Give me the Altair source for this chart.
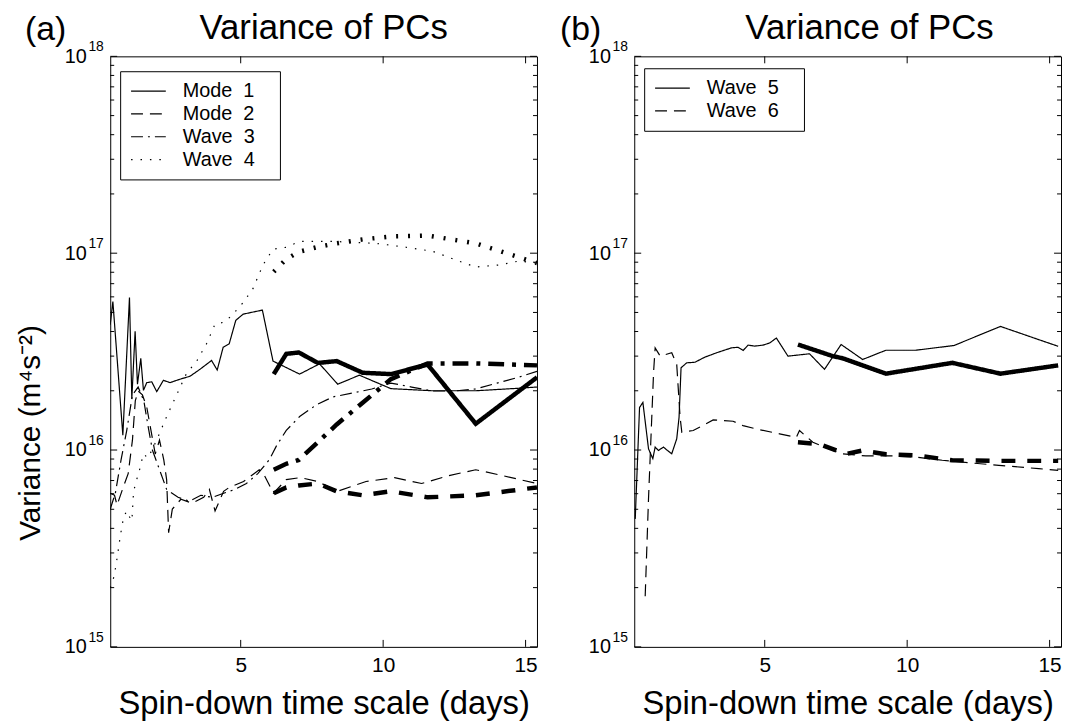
import altair as alt
import pandas as pd

# ---------------- data (variance in units of 1e16 m^4 s^-2) ----------------
# Panel (a)
M1_DAY = [0.42, 0.513, 0.863, 1.096, 1.178, 1.294, 1.376, 1.493, 1.586, 1.703, 1.878, 2.053, 2.286, 2.519,
          2.869, 3.219, 3.569, 3.977, 4.175, 4.385, 4.595, 4.828, 5.085, 5.761, 6.134, 7.067, 7.766, 8.407,
          9.165, 10.273, 11.73, 13.245, 14.76, 15.4]
M1_VAR = [4.33, 5.68, 1.19, 5.96, 1.82, 4.01, 2.16, 2.92, 2.01, 2.20, 2.22, 1.98, 2.26, 2.20,
          2.29, 2.37, 2.57, 2.85, 2.55, 3.33, 3.46, 4.56, 4.90, 5.14, 2.83, 2.43, 2.74, 2.16,
          2.40, 2.05, 2.00, 2.00, 2.06, 2.09]

M2_DAY = [0.42, 0.57, 0.66, 0.85, 1.05, 1.2, 1.3, 1.4, 1.55, 1.7, 1.85, 2.0, 2.15, 2.3, 2.4, 2.47, 2.6,
          2.9, 3.3, 3.7, 3.9, 4.1, 4.4, 4.6, 5.1, 5.65, 5.8, 6.15, 6.6, 7.1, 7.7, 8.4, 9.4, 10.4,
          11.35, 12.3, 13.25, 14.2, 15.4]
M2_VAR = [0.603, 0.589, 0.525, 0.631, 0.759, 1.122, 1.778, 1.995, 1.905, 1.660, 1.259, 0.955, 1.122,
          0.891, 0.708, 0.380, 0.501, 0.562, 0.537, 0.575, 0.631, 0.490, 0.617, 0.646, 0.692, 0.794,
          0.759, 0.603, 0.708, 0.724, 0.692, 0.617, 0.692, 0.724, 0.676, 0.741, 0.794, 0.741, 0.676]

W3_DAY = [0.42, 0.6, 0.8, 1.0, 1.2, 1.4, 1.6, 1.75, 1.9, 2.1, 2.4, 2.8, 3.2, 3.6, 4.0, 4.4, 4.8, 5.2,
          5.6, 6.0, 6.25, 6.6, 7.07, 7.66, 8.24, 8.94, 9.6, 10.27, 11.0, 11.73, 12.5, 13.25, 14.0,
          14.76, 15.4]
W3_VAR = [0.501, 0.603, 0.891, 1.259, 1.905, 2.089, 1.778, 1.318, 1.0, 0.832, 0.631, 0.575, 0.550,
          0.589, 0.575, 0.603, 0.631, 0.676, 0.759, 0.891, 1.047, 1.259, 1.479, 1.698, 1.862, 1.950,
          2.042, 2.188, 2.089, 1.995, 1.995, 2.042, 2.188, 2.344, 2.512]

W4_DAY = [0.42, 0.56, 0.67, 0.77, 0.89, 1.0, 1.1, 1.18, 1.24, 1.35, 1.47, 1.58, 1.75, 2.05, 2.4, 2.75,
          3.1, 3.45, 3.8, 4.1, 4.44, 4.73, 5.09, 5.43, 5.78, 6.13, 6.6, 7.07, 8.23, 9.75, 10.8, 11.73,
          12.66, 13.25, 14.06, 14.76, 15.4]
W4_VAR = [0.200, 0.229, 0.288, 0.363, 0.457, 0.490, 0.457, 0.437, 0.617, 0.708, 0.813, 0.955, 0.912,
          1.122, 1.479, 1.905, 2.455, 2.818, 3.467, 4.365, 4.467, 4.898, 5.623, 6.607, 8.710, 10.47,
          10.72, 11.48, 11.48, 11.22, 10.72, 10.23, 9.12, 8.51, 8.71, 9.12, 8.91]

THICK_DAY_A = [6.16, 6.6, 7.04, 7.71, 8.37, 9.28, 10.27, 11.56, 13.25, 15.4]
M1_THICK = [2.43, 3.08, 3.13, 2.77, 2.83, 2.47, 2.43, 2.72, 1.36, 2.34]
M2_THICK = [0.603, 0.646, 0.661, 0.676, 0.617, 0.589, 0.617, 0.575, 0.589, 0.646]
W3_THICK = [0.794, 0.851, 0.891, 1.096, 1.349, 1.738, 2.291, 2.754, 2.754, 2.692]
W4_THICK = [8.05, 9.33, 10.16, 10.76, 11.22, 11.75, 12.16, 12.30, 11.22, 8.91]

# Panel (b)
W5_DAY = [0.455, 0.606, 0.723, 0.921, 1.072, 1.154, 1.27, 1.445, 1.585, 1.736, 1.911, 1.993, 2.063,
          2.261, 2.552, 2.902, 3.31, 3.834, 4.067, 4.242, 4.417, 4.65, 4.942, 5.175, 5.408, 5.816,
          6.573, 7.098, 7.681, 8.438, 9.254, 10.303, 11.643, 13.275, 14.615, 15.3]
W5_VAR = [0.447, 1.644, 1.746, 1.014, 0.904, 1.035, 0.995, 1.035, 0.995, 0.957, 1.140, 1.466, 2.618,
          2.773, 2.793, 2.965, 3.119, 3.304, 3.327, 3.206, 3.412, 3.373, 3.412, 3.499, 3.707, 2.999,
          3.083, 2.570, 3.436, 2.884, 3.214, 3.214, 3.396, 4.246, 3.639, 3.365]
W5_THICK_DAY = [6.166, 7.39, 7.74, 9.254, 11.585, 13.275, 15.3]
W5_THICK = [3.436, 2.999, 2.924, 2.443, 2.773, 2.443, 2.692]

W6_DAY = [0.804, 0.92, 1.10, 1.154, 1.33, 1.736, 1.911, 2.03, 2.09, 2.49, 3.19, 3.89, 4.24, 4.71, 5.52,
          6.11, 6.22, 6.69, 7.39, 7.74, 8.55, 9.49, 10.3, 11.23, 12.28, 13.22, 14.62, 15.3]
W6_VAR = [0.181, 0.562, 2.512, 3.304, 2.999, 3.119, 2.723, 1.466, 1.230, 1.256, 1.422, 1.400, 1.330,
          1.279, 1.208, 1.161, 1.256, 1.096, 0.995, 0.957, 0.933, 0.933, 0.920, 0.887, 0.859, 0.836,
          0.804, 0.789]
W6_THICK_DAY = [6.166, 6.92, 7.51, 7.86, 8.44, 9.25, 10.3, 11.58, 13.27, 15.3]
W6_THICK = [1.096, 1.072, 0.995, 0.955, 0.995, 0.951, 0.940, 0.887, 0.881, 0.881]

SERIES_A = ["Mode 1", "Mode 2", "Wave 3", "Wave 4"]
SERIES_B = ["Wave 5", "Wave 6"]
Y_TICKS = [1e15, 1e16, 1e17, 1e18]
Y_EXP = ["15", "16", "17", "18"]
Y_MINOR = [k * 10.0 ** e for e in (15, 16, 17) for k in range(2, 10)]
X_TICKS = [5, 10, 15]
TITLE = "Variance of PCs"
X_TITLE = "Spin-down time scale (days)"
Y_TITLE = "Variance (m\u2074s\u207b\u00b2)"
TAGS = ["(a)", "(b)"]
UNIT = 1e16

FONT = "Liberation Sans"
W, H = 430, 595


def frame(groups):
    rows = []
    for name, days, vals in groups:
        for d, v in zip(days, vals):
            rows.append({"day": d, "value": v * UNIT, "series": name})
    return pd.DataFrame(rows)


thin_a = frame([("Mode 1", M1_DAY, M1_VAR), ("Mode 2", M2_DAY, M2_VAR),
                ("Wave 3", W3_DAY, W3_VAR), ("Wave 4", W4_DAY, W4_VAR)])
thick_a = frame([("Mode 1", THICK_DAY_A, M1_THICK), ("Mode 2", THICK_DAY_A, M2_THICK),
                 ("Wave 3", THICK_DAY_A, W3_THICK), ("Wave 4", THICK_DAY_A, W4_THICK)])
thin_b = frame([("Wave 5", W5_DAY, W5_VAR), ("Wave 6", W6_DAY, W6_VAR)])
thick_b = frame([("Wave 5", W5_THICK_DAY, W5_THICK), ("Wave 6", W6_THICK_DAY, W6_THICK)])

xscale = alt.Scale(domain=[0.42, 15.4], nice=False, zero=False)
yscale = alt.Scale(type="log", domain=[1e15, 1e18], nice=False)

xaxis = alt.Axis(values=X_TICKS, format="d", grid=False, domain=False, ticks=False,
                 labelFontSize=21, labelPadding=8, labelColor="black", labelFont=FONT,
                 labelFlush=False, title=X_TITLE, titleFontSize=33, titleFontWeight="normal",
                 titleFont=FONT, titleColor="black", titlePadding=12)


def yaxis(with_title):
    kw = dict(values=Y_TICKS, labelExpr="'10'", grid=False, domain=False, ticks=False,
              labelFontSize=20, labelPadding=24, labelColor="black", labelFont=FONT,
              labelFlush=False, labelOverlap=False, labelBaseline="middle")
    if with_title:
        kw.update(title=Y_TITLE, titleFontSize=30, titleFontWeight="normal", titleFont=FONT,
                  titleColor="black", titleX=-80, titleY=379, titleBaseline="middle",
                  titleAngle=270, titleAlign="center")
    else:
        kw.update(title=None)
    return alt.Axis(**kw)


THIN_DASH = {"Mode 1": [1, 0], "Mode 2": [12, 7], "Wave 3": [12, 5, 2, 5], "Wave 4": [1.5, 8],
             "Wave 5": [1, 0], "Wave 6": [12, 7]}
THICK_DASH = {"Mode 1": [1, 0], "Mode 2": [14, 12], "Wave 3": [16, 8, 4, 8], "Wave 4": [2, 10],
              "Wave 5": [1, 0], "Wave 6": [14, 12]}


def panel(thin, thick, names, with_title, legend_xy, title_dx, tag, tag_dx):
    ya = yaxis(with_title)
    X = alt.X("day:Q", scale=xscale, axis=xaxis)
    Y = alt.Y("value:Q", scale=yscale, axis=ya)

    legend = alt.Legend(orient="none", legendX=legend_xy[0], legendY=legend_xy[1], title=None,
                        strokeColor="black", fillColor="white", padding=10, labelFontSize=20,
                        labelFont=FONT, labelColor="black", symbolType="stroke",
                        symbolStrokeWidth=1.2, symbolStrokeColor="black", symbolSize=1225,
                        labelOffset=16, rowPadding=3, clipHeight=20,
                        labelExpr="replace(datum.label, ' ', '\u00a0\u00a0') + '\u2800'")

    thin_l = alt.Chart(thin).mark_line(color="black", strokeWidth=1.2, clip=True).encode(
        x=X, y=Y,
        strokeDash=alt.StrokeDash("series:N", scale=alt.Scale(domain=names, range=[THIN_DASH[n] for n in names]),
                                  legend=legend),
    )
    thick_l = alt.Chart(thick).mark_line(color="black", strokeWidth=4.5, clip=True).encode(
        x=X, y=Y,
        strokeDash=alt.StrokeDash("series:N", scale=alt.Scale(domain=names, range=[THICK_DASH[n] for n in names]),
                                  legend=None),
    )

    ymaj = pd.DataFrame({"value": Y_TICKS, "sup": Y_EXP})
    ymin = pd.DataFrame({"value": Y_MINOR})
    xmaj = pd.DataFrame({"day": X_TICKS})

    def yrule(df, x1, x2):
        return alt.Chart(df).mark_rule(color="black", strokeWidth=1).encode(
            y=Y, x=alt.value(x1), x2=alt.value(x2))

    def xrule(y1, y2):
        return alt.Chart(xmaj).mark_rule(color="black", strokeWidth=1).encode(
            x=X, y=alt.value(y1), y2=alt.value(y2))

    ticks = [yrule(ymaj, 0, 7), yrule(ymaj, W, W - 7), yrule(ymin, 0, 4), yrule(ymin, W, W - 4),
             xrule(H, H - 7), xrule(0, 7)]

    sup = alt.Chart(ymaj).mark_text(align="left", baseline="middle", fontSize=14, font=FONT,
                                    color="black", dy=-9).encode(
        y=Y, x=alt.value(-22), text="sup:N")

    labels = pd.DataFrame({"t": [tag, TITLE], "x": [tag_dx, W / 2 + title_dx], "y": [-26, -28],
                           "fs": [34, 35]})
    txt = alt.Chart(labels).mark_text(
        align="center", baseline="middle", font=FONT, color="black").encode(
        x=alt.X("x:Q", scale=None), y=alt.Y("y:Q", scale=None), text="t:N",
        size=alt.Size("fs:Q", scale=None, legend=None))

    return alt.layer(thin_l, thick_l, *ticks, sup, txt).resolve_scale(
        strokeDash="independent").properties(width=W, height=H)


pa = panel(thin_a, thick_a, SERIES_A, True, (10, 15), 0, TAGS[0], -65)
pb = panel(thin_b, thick_b, SERIES_B, False, (10, 12), 22, TAGS[1], -54)

chart = alt.hconcat(pa, pb, spacing=21).configure(
    font=FONT, padding={"left": 7, "top": 0, "right": 0, "bottom": 0}
).configure_view(stroke="black", strokeWidth=1)

chart.save("out.html", embed_options={"renderer": "svg", "actions": False})
